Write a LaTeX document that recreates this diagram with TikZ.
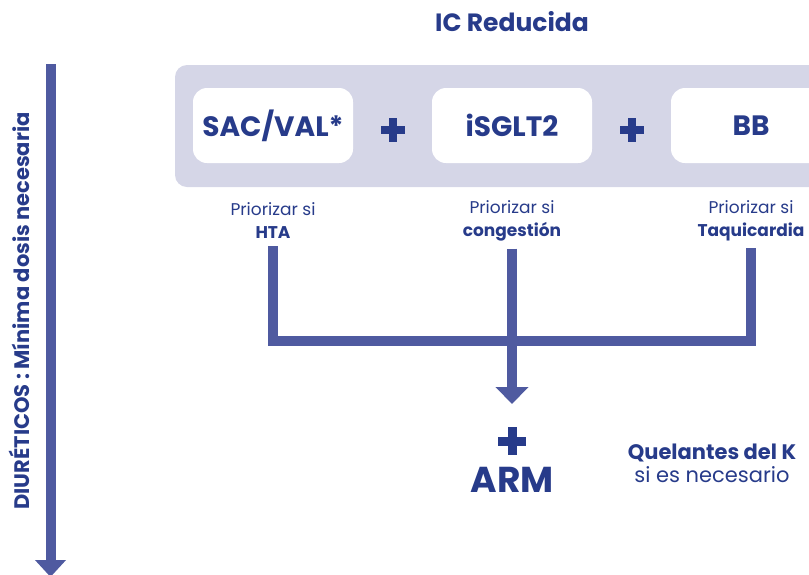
\documentclass[tikz,border=0pt]{standalone}
\usepackage{fontspec}
\setmainfont{Poppins}
\usetikzlibrary{positioning,arrows.meta}
\definecolor{navy}{RGB}{39,59,138}
\definecolor{linkblue}{RGB}{79,90,160}
\definecolor{band}{RGB}{213,214,231}
\tikzset{
  drug/.style={fill=white, rounded corners=14pt, minimum width=160pt, minimum height=75pt, inner sep=0pt,
    font=\bfseries\fontsize{28}{32}\selectfont, text=navy},
  why/.style={align=center, inner sep=0pt, font=\fontsize{17}{23}\selectfont, text=navy},
  link/.style={draw=linkblue, line width=10pt},
  plussign/.style 2 args={minimum size=#1, inner sep=0pt, path picture={
    \fill[navy] ([yshift=-#2/2]path picture bounding box.west) rectangle ([yshift=#2/2]path picture bounding box.east);
    \fill[navy] ([xshift=-#2/2]path picture bounding box.north) rectangle ([xshift=#2/2]path picture bounding box.south);}},
}
\begin{document}
\begin{tikzpicture}[x=1pt, y=-1pt, node distance=239pt]
\useasboundingbox (0,0) rectangle (809,574);

\node[font=\bfseries\fontsize{25}{28}\selectfont, text=navy] (title) at (512,22) {IC Reducida};
\node[fill=band, rounded corners=12pt, minimum width=670pt, minimum height=122pt] (panel) at (510,126) {};

\node[drug] (sac) at (273,125.5) {SAC/VAL*};
\node[drug, right of=sac] (sglt) {iSGLT2};
\node[drug, right of=sglt] (bb) {BB};
\node[plussign={24pt}{8pt}] (p1) at (393,130) {};
\node[plussign={24pt}{8pt}] (p2) at (632,130) {};

\node[why] (hta) at (273,221) {Priorizar si\\\textbf{HTA}};
\node[why, right of=hta] (cong) {Priorizar si\\\textbf{congestión}};
\node[why, right of=cong] (taq) {Priorizar si\\\textbf{Taquicardia}};

% union of the three options
\coordinate (bus) at (512,341);
\coordinate (merge) at (512,404);
\draw[link, line join=miter] ([yshift=-7pt]hta.south) -- (hta.south |- bus) -- (taq.south |- bus) -- ([yshift=-7pt]taq.south);
\draw[link, -{Triangle[width=32pt,length=17pt]}] ([yshift=-7pt]cong.south) -- (merge);

\node[plussign={28pt}{9pt}] (p3) at (512,441) {};
\node[font=\bfseries\fontsize{36}{40}\selectfont, text=navy] (arm) at (512,480) {ARM};
\node[align=center, text=navy, font=\fontsize{21}{23}\selectfont] (quel) at (712,463) {\textbf{Quelantes del K}\\si es necesario};

% diuretics on the left
\node[rotate=90, font=\bfseries\fontsize{21}{24}\selectfont, text=navy] (diur) at (19,311) {DIURÉTICOS : Mínima dosis necesaria};
\coordinate (dtop) at (50.5,64);
\coordinate (dbot) at (50.5,577);
\draw[link, -{Triangle[width=30pt,length=17pt]}] (dtop) -- (dbot);
\end{tikzpicture}
\end{document}
